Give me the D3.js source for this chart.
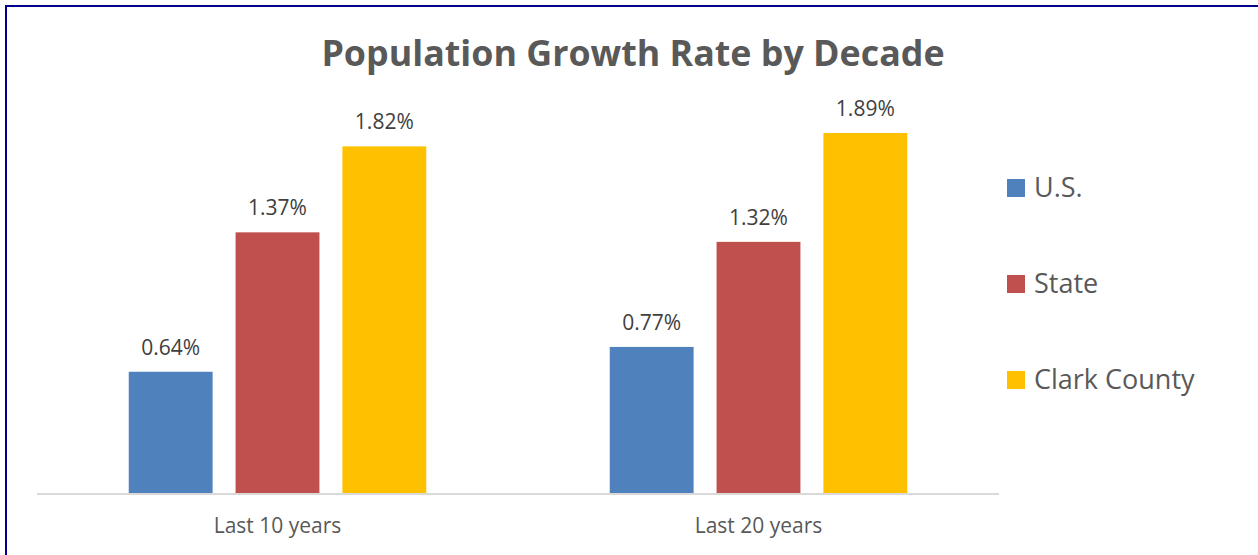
<!DOCTYPE html>
<html>
<head>
<meta charset="utf-8">
<script src="https://cdn.jsdelivr.net/npm/d3@7"></script>
<style>
  html, body { margin: 0; padding: 0; background: #fff; }
  svg { display: block; }
  text { font-family: "Open Sans", "Noto Sans", sans-serif; }
</style>
</head>
<body>
<svg id="chart" width="1258" height="555"></svg>
<script>
// Growth rate (%) per period for each geography
const periods = ["Last 10 years", "Last 20 years"];
const seriesNames = ["U.S.", "State", "Clark County"];
const usValues = [0.64, 0.77];
const stateValues = [1.37, 1.32];
const clarkValues = [1.82, 1.89];
const seriesColors = ["#4F81BD", "#C0504D", "#FFC000"];

const seriesValues = [usValues, stateValues, clarkValues];
const rows = periods.map((p, i) => ({
  period: p,
  bars: seriesNames.map((s, j) => ({ series: s, value: seriesValues[j][i], color: seriesColors[j] }))
}));

const svg = d3.select("#chart");

// Frame
svg.append("line").attr("x1", 6).attr("x2", 1258).attr("y1", 6).attr("y2", 6)
  .attr("stroke", "#00008B").attr("stroke-width", 2);
svg.append("line").attr("x1", 6).attr("x2", 6).attr("y1", 5).attr("y2", 555)
  .attr("stroke", "#00008B").attr("stroke-width", 2);

// Title
svg.append("text")
  .attr("x", 633).attr("y", 66)
  .attr("text-anchor", "middle")
  .attr("font-size", 35.8).attr("font-weight", 700)
  .attr("fill", "#595959")
  .text("Population Growth Rate by Decade");

const plot = { left: 37, right: 999, top: 112, bottom: 494 };

const x0 = d3.scaleBand().domain(periods).range([plot.left, plot.right]).padding(0);
const groupPad = 91.75;
const x1 = d3.scaleBand().domain(seriesNames)
  .range([groupPad, x0.bandwidth() - groupPad])
  .paddingInner(0.215).paddingOuter(0);
const y = d3.scaleLinear().domain([0, 2]).range([plot.bottom, plot.top]);

const groups = svg.append("g").selectAll("g")
  .data(rows).join("g")
  .attr("transform", d => `translate(${x0(d.period)},0)`);

groups.selectAll("rect")
  .data(d => d.bars).join("rect")
  .attr("x", d => x1(d.series))
  .attr("width", x1.bandwidth())
  .attr("y", d => y(d.value))
  .attr("height", d => y(0) - y(d.value))
  .attr("fill", d => d.color);

groups.selectAll("text.val")
  .data(d => d.bars).join("text")
  .attr("class", "val")
  .attr("x", d => x1(d.series) + x1.bandwidth() / 2)
  .attr("y", d => y(d.value) - 17)
  .attr("text-anchor", "middle")
  .attr("font-size", 21)
  .attr("fill", "#404040")
  .text(d => d.value.toFixed(2) + "%");

// Category axis
const xAxis = svg.append("g")
  .attr("transform", `translate(0,${plot.bottom})`)
  .call(d3.axisBottom(x0).tickSize(0).tickPadding(0));
xAxis.select(".domain").attr("stroke", "#D9D9D9").attr("stroke-width", 2)
  .attr("d", `M${plot.left},0H${plot.right}`);
xAxis.selectAll(".tick text")
  .attr("y", 39).attr("dy", null)
  .attr("font-size", 21)
  .attr("font-family", "'Open Sans', sans-serif")
  .attr("fill", "#595959");

// Legend
const legend = svg.append("g").selectAll("g")
  .data(seriesNames).join("g")
  .attr("transform", (d, i) => `translate(1007,${179 + i * 96})`);
legend.append("rect")
  .attr("width", 18).attr("height", 18)
  .attr("fill", (d, i) => seriesColors[i]);
legend.append("text")
  .attr("x", 27).attr("y", 18)
  .attr("font-size", 27)
  .attr("fill", "#595959")
  .text(d => d);
</script>
</body>
</html>
